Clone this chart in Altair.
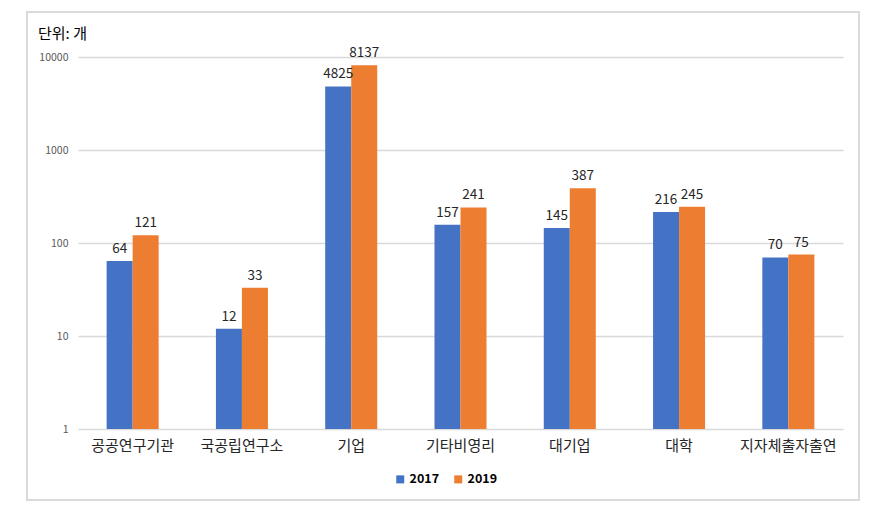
import altair as alt
import pandas as pd

categories = ["공공연구기관", "국공립연구소", "기업", "기타비영리", "대기업", "대학", "지자체출자출연"]
v2017 = [64, 12, 4825, 157, 145, 216, 70]
v2019 = [121, 33, 8137, 241, 387, 245, 75]
years = ["2017", "2019"]
colors = ["#4472C4", "#ED7D31"]
y_ticks = [1, 10, 100, 1000, 10000]
unit_text = "단위: 개"

rows = []
for c, a, b in zip(categories, v2017, v2019):
    rows.append({"cat": c, "year": "2017", "v": a})
    rows.append({"cat": c, "year": "2019", "v": b})
df = pd.DataFrame(rows)

FONT = "Noto Sans CJK KR"

x_enc = alt.X("cat:N", sort=categories,
              scale=alt.Scale(paddingInner=0.524, paddingOuter=0.262),
              axis=alt.Axis(title=None, labelAngle=0, domain=False, ticks=False,
                            labelFontSize=15, labelColor="#262626", labelPadding=9,
                            labelFont=FONT))
y_enc = alt.Y("v:Q", scale=alt.Scale(type="log", domain=[1, 10000]),
              axis=alt.Axis(title=None, values=y_ticks, format="d", grid=True,
                            gridColor="#d9d9d9", gridWidth=1.5, domain=False, ticks=False,
                            labelColor="#595959", labelFontSize=10.5, labelPadding=10,
                            labelFont=FONT))
xoff = alt.XOffset("year:N", sort=years, scale=alt.Scale(paddingInner=0, paddingOuter=0))

base = alt.Chart(df)

bars = base.mark_bar().encode(
    x=x_enc, y=y_enc, y2=alt.Y2(datum=1), xOffset=xoff,
    color=alt.Color("year:N", scale=alt.Scale(domain=years, range=colors),
                    legend=alt.Legend(title=None, orient="none", legendX=316, legendY=416,
                                      direction="horizontal", symbolType="square",
                                      symbolSize=64, symbolStrokeWidth=0,
                                      labelFontWeight="bold", labelFontSize=12.5,
                                      labelColor="#000000", labelFont=FONT,
                                      columnPadding=12, labelOffset=3))
)

labels = base.mark_text(baseline="bottom", dy=-5, fontSize=13.5, color="#262626", font=FONT).encode(
    x=x_enc, y=y_enc, xOffset=xoff, text=alt.Text("v:Q", format="d")
)

one = alt.Data(values=[{"t": unit_text}])

border = alt.Chart(one).mark_rect(
    fill=None, stroke="#d9d9d9", strokeWidth=2
).encode(
    x=alt.value(-51), x2=alt.value(781), y=alt.value(-45), y2=alt.value(443)
)

title = alt.Chart(one).mark_text(
    align="left", baseline="bottom", fontSize=15, color="#000000", font=FONT
).encode(
    x=alt.value(-40), y=alt.value(-15), text="t:N"
)

chart = alt.layer(border, bars, labels, title).properties(
    width=765, height=372,
    autosize="none",
    padding={"left": 70, "top": 49, "right": 28, "bottom": 83},
).configure_view(stroke=None)

chart.save("out.html", embed_options={"renderer": "svg", "actions": False})
